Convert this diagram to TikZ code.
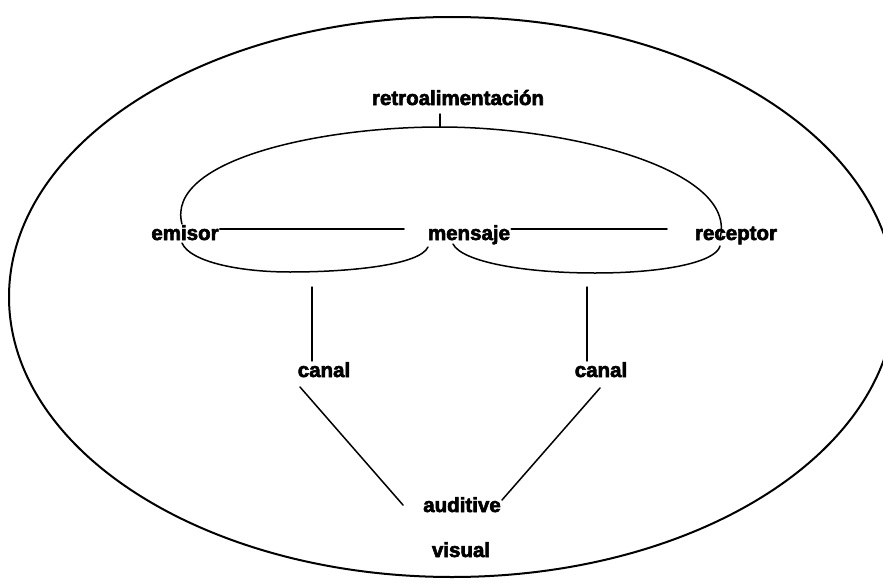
\documentclass[tikz,border=0pt]{standalone}
\usepackage{fontspec}
\setmainfont{Liberation Sans}
\newfontfamily\heavyfont{Liberation Sans Bold}[FakeBold=3]
\begin{document}
\begin{tikzpicture}[x=1pt,y=-1pt,
  lbl/.style={font=\fontsize{20.5}{24}\heavyfont, inner sep=1pt, anchor=base},
  ln/.style={line width=1.5pt, line cap=round},
  outer/.style={line width=2pt}]
\useasboundingbox (0,0) rectangle (883,586);
% outer ellipse
\draw[outer] (452,297) ellipse [x radius=443, y radius=280];
% labels
\node[lbl] (retro) at (458,105) {retroalimentación};
\node[lbl] (emisor) at (185,240) {emisor};
\node[lbl] (mensaje) at (469,240) {mensaje};
\node[lbl] (receptor) at (736,240) {receptor};
\node[lbl] (canalL) at (324,377) {canal};
\node[lbl] (canalR) at (601,377) {canal};
\node[lbl] (auditive) at (462,512) {auditive};
\node[lbl] (visual) at (461,557) {visual};
% coordinates
\coordinate (tk) at (440,127);
\coordinate (tktop) at (440,114);
\coordinate (l1) at (404,229);
\coordinate (l2) at (667,229);
\coordinate (vL) at (312,287);
\coordinate (vR) at (587,287);
\coordinate (dL) at (300,387);
\coordinate (dR) at (600,388);
\coordinate (aL) at (403,505);
\coordinate (aR) at (502,500);
% feedback tick
\draw[ln] (tktop) -- (tk);
% big arc
\draw[ln] (182,224) .. controls (165,160) and (320,127) .. (tk)
  .. controls (570,127) and (738,170) .. (720,238);
% horizontal lines
\draw[ln] (emisor.east |- l1) -- (l1);
\draw[ln] (mensaje.east |- l2) -- (l2);
% lower loops
\draw[ln] (182,243) .. controls (190,262) and (240,272) .. (290,272)
  .. controls (350,272) and (420,265) .. (428,247);
\draw[ln] (453,244) .. controls (462,262) and (525,273) .. (595,273)
  .. controls (665,273) and (716,262) .. (720,246);
% verticals
\draw[ln] (vL) -- (canalL.north -| vL);
\draw[ln] (vR) -- (canalR.north -| vR);
% diagonals
\draw[ln] (dL) -- (aL);
\draw[ln] (dR) -- (aR);
\end{tikzpicture}
\end{document}
